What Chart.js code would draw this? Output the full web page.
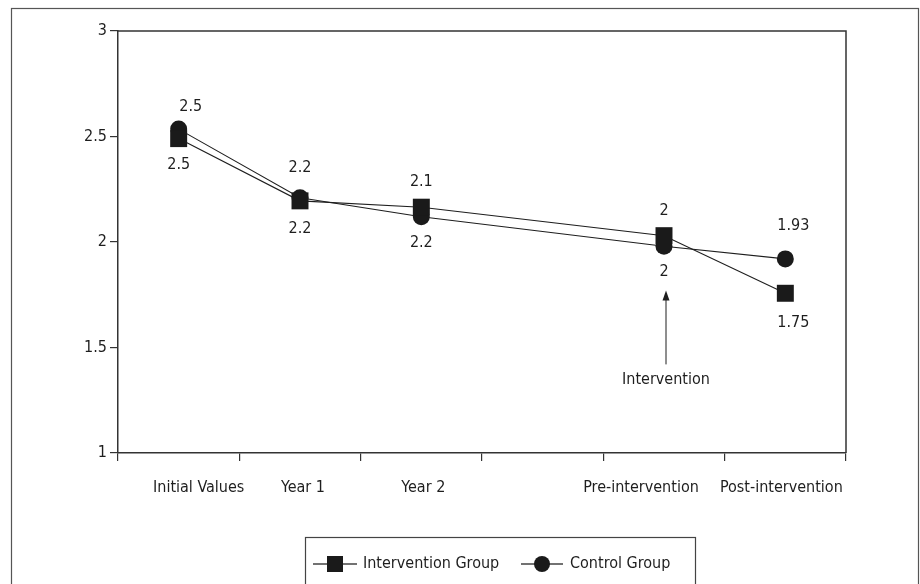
<!DOCTYPE html>
<html lang="en">
<head>
    <meta charset="UTF-8">
    <title>Intervention vs Control</title>
    <script src="https://cdn.jsdelivr.net/npm/chart.js"></script>
    <style>
        html, body { margin: 0; padding: 0; background: #fff; }
    </style>
</head>
<body>
<canvas id="chart" width="920" height="584"></canvas>

<script>
  // categories (empty slot keeps the gap between Year 2 and Pre-intervention)
  const categories = ['Initial Values', 'Year 1', 'Year 2', '', 'Pre-intervention', 'Post-intervention'];

  // series values
  const interventionValues = [2.49, 2.195, 2.165, null, 2.03, 1.757];
  const controlValues = [2.535, 2.21, 2.12, null, 1.98, 1.92];

  // printed labels next to the markers
  const interventionLabels = ['2.5', '2.2', '2.1', '', '2', '1.75'];
  const controlLabels = ['2.5', '2.2', '2.2', '', '2', '1.93'];
  const interventionLabelSide = ['below', 'below', 'above', '', 'above', 'below'];
  const controlLabelSide = ['above', 'above', 'below', '', 'below', 'above'];

  // y ticks
  const yMin = 1, yMax = 3, yStep = 0.5;

  const FONT = "'Liberation Sans Narrow', 'Arial Narrow', 'DejaVu Sans Condensed', sans-serif";
  const INK = '#1e1e1e';
  // small sideways nudges of the category names so the long ones do not collide
  const catNudge = [20, 3, 2, 0, -23, -4];

  Chart.defaults.font.family = FONT;
  Chart.defaults.font.size = 16;
  Chart.defaults.color = INK;

  // frame, value labels, category names, arrow note and legend box
  const extras = {
    id: 'extras',
    afterDatasetsDraw(chart) {
      const ctx = chart.ctx;
      const x = chart.scales.x;
      const y = chart.scales.y;
      ctx.save();

      // outer frame
      ctx.strokeStyle = '#555';
      ctx.lineWidth = 1.2;
      ctx.strokeRect(11.5, 8.5, 907, 600);

      ctx.fillStyle = INK;
      ctx.font = '16px ' + FONT;
      ctx.textAlign = 'center';
      ctx.textBaseline = 'middle';

      // category names under the axis
      categories.forEach((c, i) => {
        if (c) ctx.fillText(c, x.getPixelForValue(i) + catNudge[i], x.bottom - 131 + 35);
      });

      // value labels
      const drawLabels = (values, labels, sides) => {
        values.forEach((v, i) => {
          if (v === null || !labels[i]) return;
          const above = sides[i] === 'above';
          let dx = 0, dy = above ? -25 : 26;
          if (i === 0 && above) { dx = 12; dy = -22; }
          if (i === 1) dy = above ? -30 : 28;
          if (i === 5) { dx = 8; dy = above ? -33 : 30; }
          ctx.fillText(labels[i], x.getPixelForValue(i) + dx, y.getPixelForValue(v) + dy);
        });
      };
      drawLabels(interventionValues, interventionLabels, interventionLabelSide);
      drawLabels(controlValues, controlLabels, controlLabelSide);

      // intervention arrow
      const ax = x.getPixelForValue(4) + 2;
      const tip = y.getPixelForValue(1.77);
      const tail = y.getPixelForValue(1.42);
      ctx.strokeStyle = INK;
      ctx.lineWidth = 1;
      ctx.beginPath();
      ctx.moveTo(ax, tail);
      ctx.lineTo(ax, tip + 6);
      ctx.stroke();
      ctx.beginPath();
      ctx.moveTo(ax, tip);
      ctx.lineTo(ax - 3.5, tip + 10);
      ctx.lineTo(ax + 3.5, tip + 10);
      ctx.closePath();
      ctx.fill();
      ctx.fillText('Intervention', ax, y.getPixelForValue(1.345));

      // legend
      ctx.strokeStyle = '#444';
      ctx.lineWidth = 1.2;
      ctx.strokeRect(305.5, 537.5, 390, 70);
      const ly = 564;
      ctx.lineWidth = 1.3;
      ctx.beginPath();
      ctx.moveTo(313, ly); ctx.lineTo(357, ly);
      ctx.moveTo(521, ly); ctx.lineTo(563, ly);
      ctx.stroke();
      ctx.fillStyle = '#1a1a1a';
      ctx.fillRect(327, ly - 8, 16, 16);
      ctx.beginPath();
      ctx.arc(542, ly, 8, 0, Math.PI * 2);
      ctx.fill();
      ctx.fillStyle = INK;
      ctx.textAlign = 'left';
      ctx.fillText(chart.data.datasets[0].label, 363, ly);
      ctx.fillText(chart.data.datasets[1].label, 570, ly);

      ctx.restore();
    }
  };

  const ctx = document.getElementById('chart').getContext('2d');
  new Chart(ctx, {
    type: 'line',
    data: {
      labels: categories,
      datasets: [
        {
          label: 'Intervention Group',
          data: interventionValues,
          borderColor: INK,
          borderWidth: 1.1,
          backgroundColor: '#1a1a1a',
          pointStyle: 'rect',
          pointRadius: 12,
          pointBorderWidth: 0,
          spanGaps: true,
          tension: 0
        },
        {
          label: 'Control Group',
          data: controlValues,
          borderColor: INK,
          borderWidth: 1.1,
          backgroundColor: '#1a1a1a',
          pointStyle: 'circle',
          pointRadius: 8.5,
          pointBorderWidth: 0,
          spanGaps: true,
          tension: 0
        }
      ]
    },
    options: {
      responsive: false,
      animation: false,
      layout: { padding: { left: 0, top: 31, right: 74, bottom: 0 } },
      scales: {
        x: {
          type: 'category',
          offset: true,
          grid: {
            offset: true,
            drawOnChartArea: false,
            drawTicks: true,
            tickLength: 8,
            color: '#333',
            lineWidth: 1.2
          },
          border: { display: true, color: '#333', width: 1.5 },
          ticks: { display: false },
          afterFit(scale) { scale.height = 131; }
        },
        y: {
          min: yMin,
          max: yMax,
          grid: {
            drawOnChartArea: false,
            drawTicks: true,
            tickLength: 8,
            color: '#333',
            lineWidth: 1.2
          },
          border: { display: true, color: '#333', width: 1.5 },
          ticks: {
            stepSize: yStep,
            padding: 3,
            color: INK,
            callback: v => String(Number(v))
          },
          afterFit(scale) { scale.width = 118; }
        }
      },
      plugins: {
        legend: { display: false },
        tooltip: { enabled: false }
      }
    },
    plugins: [extras, {
      id: 'topBorder',
      beforeDatasetsDraw(chart) {
        const a = chart.chartArea;
        const c = chart.ctx;
        c.save();
        c.strokeStyle = '#333';
        c.lineWidth = 1.5;
        c.beginPath();
        c.moveTo(a.left, a.top); c.lineTo(a.right, a.top); c.lineTo(a.right, a.bottom);
        c.stroke();
        c.restore();
      }
    }]
  });
</script>
</body>
</html>
